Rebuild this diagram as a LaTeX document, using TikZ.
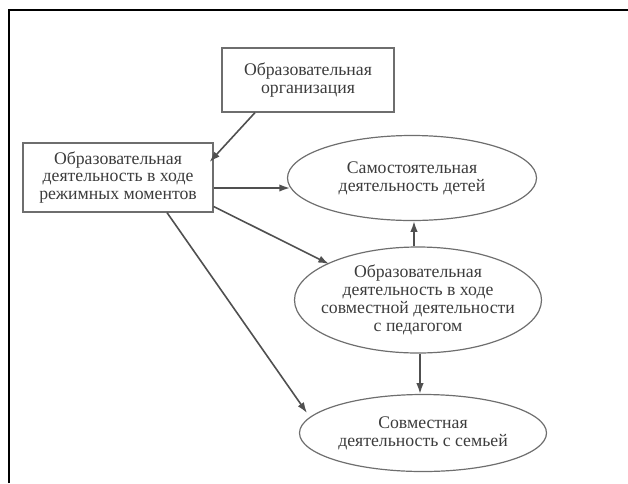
\documentclass[tikz,border=0pt]{standalone}
\usepackage{fontspec}
\setmainfont{Liberation Serif}
\usetikzlibrary{arrows.meta, shapes.geometric, calc}

\definecolor{inkgray}{HTML}{3C3C3C}
\definecolor{linegray}{HTML}{6E6E6E}
\definecolor{arrowgray}{HTML}{505050}

\begin{document}
\begin{tikzpicture}[x=0.75pt, y=-0.75pt,
  txt/.style={text=inkgray, align=center, font=\fontsize{13.3}{13.4}\selectfont},
  block/.style={txt, draw=linegray, line width=0.9pt, inner sep=0pt},
  oval/.style={txt, ellipse, draw=linegray, line width=0.9pt, inner sep=0pt},
  link/.style={draw=arrowgray, line width=1.2pt, -{Latex[length=8pt, width=5.5pt]}}]
\useasboundingbox (0,0) rectangle (628,483);
% page frame
\draw[line width=1.5pt] (9,483) -- (9,9.5) -- (628,9.5);
% blocks
\node[block, minimum width=129pt, minimum height=48pt] (org) at (308,80) {Образовательная\\организация};
\node[block, minimum width=142.5pt, minimum height=51.75pt] (regime) at (118,177.5) {Образовательная\\деятельность в ходе\\режимных моментов};
\node[oval, minimum width=186.75pt, minimum height=63.75pt] (samost) at (412,178) {Самостоятельная\\деятельность детей};
\node[oval, inner xsep=-10pt, minimum width=185.25pt, minimum height=79.5pt] (joint) at (418,300) {Образовательная\\деятельность в ходе\\совместной деятельности\\с педагогом};
\node[oval, minimum width=185.25pt, minimum height=57.75pt] (family) at (423,433) {Совместная\\деятельность с семьей};
% arrows
\draw[link] ($(org.south)+(-53,0)$) -- ($(regime.east)+(-4,-15.5)$);
\draw[link] ($(regime.east)+(0,10.5)$) -- ($(samost.center)+(-122,10)$);
\draw[link] ($(regime.east)+(0,29)$) -- ($(joint.center)+(-89,-36)$);
\draw[link] ($(regime.south)+(49,0)$) -- ($(family.center)+(-116,-20)$);
\draw[link] ($(joint.north)+(-4,0)$) -- ($(samost.south)+(2,0)$);
\draw[link] ($(joint.south)+(2,0)$) -- ($(family.north)+(-3,0)$);
\end{tikzpicture}
\end{document}
